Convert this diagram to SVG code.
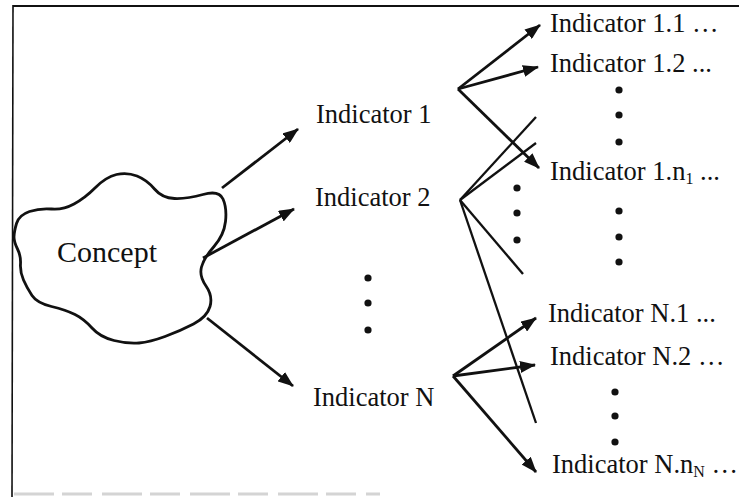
<svg xmlns="http://www.w3.org/2000/svg" width="739" height="497" viewBox="0 0 739 497">
<style>
.t{font-family:"Liberation Serif","Times New Roman",serif;font-size:26.5px;fill:#111}
.c{font-family:"Liberation Serif","Times New Roman",serif;font-size:30px;fill:#111}
.sub{font-size:16px}
.a{stroke:#111;stroke-width:2.8;fill:none}
.l{stroke:#111;stroke-width:2.3;fill:none}
.d{fill:#111}
</style>
<defs>
<marker id="ah" viewBox="0 0 16 12" markerWidth="16" markerHeight="12" refX="15" refY="6" orient="auto" markerUnits="userSpaceOnUse">
<path d="M0,0 L16,6 L0,12 Z" fill="#111"/>
</marker>
</defs>
<rect width="739" height="497" fill="#fff"/>
<g id="frame">
<line x1="13" y1="6" x2="739" y2="6" stroke="#111" stroke-width="2"/>
<line x1="13" y1="5" x2="12" y2="497" stroke="#111" stroke-width="1.6"/>
<line x1="14" y1="494" x2="380" y2="494" stroke="#d4d4d4" stroke-width="3" stroke-dasharray="40,8,30,10"/>
</g>
<g id="concept">
<path class="a" d="M 16.5,223.5 Q 19,215 29.5,211.5 Q 40,208 51.5,209 Q 63,210 74,204 Q 85,198 95.5,187.5 Q 106,177 116.5,174.5 Q 127,172 137,176 Q 147,180 154.5,189 Q 162,198 174.5,198.5 Q 187,199 203,194.5 Q 219,190 223,199 Q 227,208 225.5,221.5 Q 224,235 214,246.5 Q 204,258 201.5,267 Q 199,276 206,286 Q 213,296 210,306.5 Q 207,317 193.5,324 Q 180,331 165,336.5 Q 150,342 139,343 Q 128,344 114,340.5 Q 100,337 92,328 Q 84,319 75,314.5 Q 66,310 51.5,306.5 Q 37,303 32,295.5 Q 27,288 23.5,280 Q 20,272 20.5,264 Q 21,256 17.5,249 Q 14,242 14,237 Q 14,232 16.5,223.5 Z"/>
<text class="c" x="57" y="262">Concept</text>
</g>
<g id="ind1"><text class="t" x="316" y="123">Indicator 1</text></g>
<g id="ind2"><text class="t" x="315" y="206">Indicator 2</text></g>
<g id="indN"><text class="t" x="313" y="406">Indicator N</text></g>
<g id="ind11"><text class="t" x="550" y="32">Indicator 1.1 …</text></g>
<g id="ind12"><text class="t" x="550" y="72">Indicator 1.2 ...</text></g>
<g id="ind1n"><text class="t" x="550" y="180">Indicator 1.n<tspan class="sub" dy="4">1</tspan><tspan dy="-4"> ...</tspan></text></g>
<g id="indN1"><text class="t" x="548" y="322">Indicator N.1 ...</text></g>
<g id="indN2"><text class="t" x="550" y="365">Indicator N.2 …</text></g>
<g id="indNn"><text class="t" x="552" y="473">Indicator N.n<tspan class="sub" dy="4">N</tspan><tspan dy="-4"> …</tspan></text></g>
<g id="dots">
<circle class="d" cx="368" cy="278" r="3.6"/>
<circle class="d" cx="368" cy="303" r="3.6"/>
<circle class="d" cx="368" cy="330" r="3.6"/>
<circle class="d" cx="619" cy="90" r="3.6"/>
<circle class="d" cx="619" cy="115" r="3.6"/>
<circle class="d" cx="619" cy="142" r="3.6"/>
<circle class="d" cx="517" cy="188" r="3.6"/>
<circle class="d" cx="517" cy="213" r="3.6"/>
<circle class="d" cx="517" cy="240" r="3.6"/>
<circle class="d" cx="619" cy="211" r="3.6"/>
<circle class="d" cx="619" cy="237" r="3.6"/>
<circle class="d" cx="619" cy="262" r="3.6"/>
<circle class="d" cx="615" cy="392" r="3.6"/>
<circle class="d" cx="615" cy="416" r="3.6"/>
<circle class="d" cx="615" cy="442" r="3.6"/>
</g>
<g id="connectors">
<line class="a" x1="222" y1="188" x2="298" y2="129" marker-end="url(#ah)"/>
<line class="a" x1="203" y1="258" x2="294" y2="209" marker-end="url(#ah)"/>
<line class="a" x1="207" y1="318" x2="293" y2="386" marker-end="url(#ah)"/>
<line class="a" x1="458" y1="89" x2="540" y2="25" marker-end="url(#ah)"/>
<line class="a" x1="458" y1="89" x2="538" y2="67" marker-end="url(#ah)"/>
<line class="a" x1="458" y1="89" x2="539" y2="168" marker-end="url(#ah)"/>
<line class="l" x1="460" y1="200" x2="536" y2="117"/>
<line class="l" x1="460" y1="200" x2="536" y2="143"/>
<line class="l" x1="460" y1="200" x2="523" y2="274"/>
<line class="l" x1="460" y1="200" x2="536" y2="423"/>
<line class="a" x1="453" y1="376" x2="536" y2="318" marker-end="url(#ah)"/>
<line class="a" x1="453" y1="376" x2="535" y2="365" marker-end="url(#ah)"/>
<line class="a" x1="453" y1="376" x2="536" y2="472" marker-end="url(#ah)"/>
</g>
</svg>
